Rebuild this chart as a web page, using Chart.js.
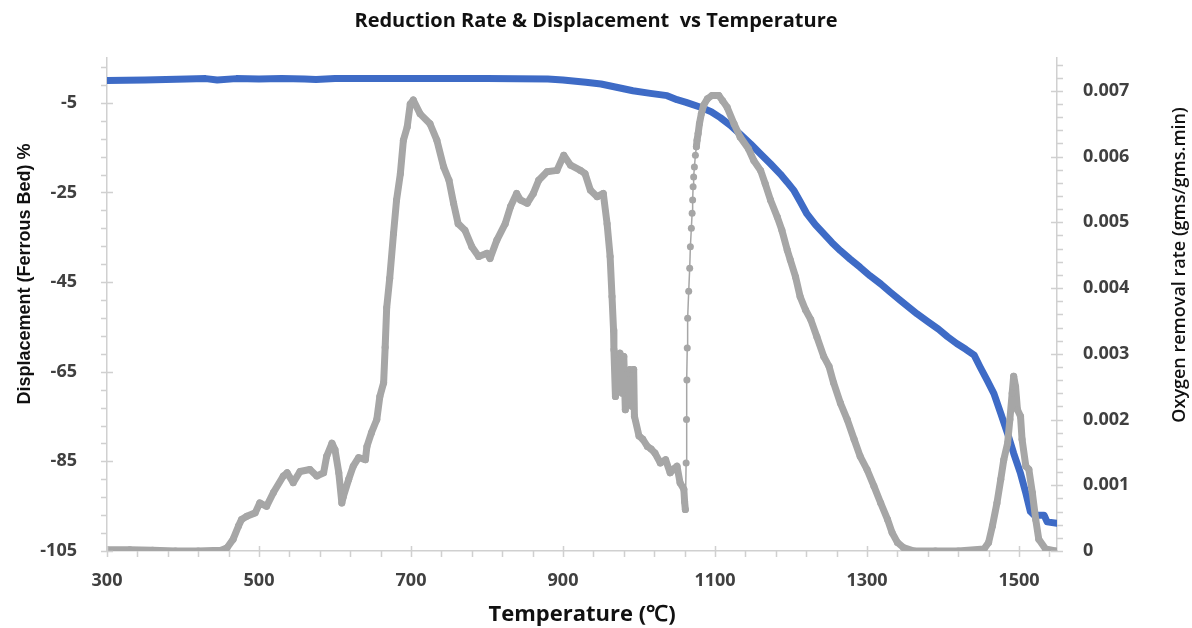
<!DOCTYPE html>
<html>
<head>
<meta charset="utf-8">
<title>Reduction Rate & Displacement vs Temperature</title>
<script src="https://cdn.jsdelivr.net/npm/chart.js@4.4.1/dist/chart.umd.min.js"></script>
<style>
    html, body { margin: 0; padding: 0; background: #ffffff; }
    #wrap { position: relative; width: 1192px; height: 628px; }
</style>
</head>
<body>
<div id="wrap"><canvas id="reductionChart"></canvas></div>
<script>
    'use strict';

    // --- Data ---
    // Displacement of the ferrous bed (%), left axis
    const displacementTemps = [
        300, 350, 405, 430, 445, 470, 500, 530, 560, 575,
        600, 650, 700, 800, 880, 900, 930, 950, 975, 992,
        1015, 1037, 1050, 1062, 1081, 1095, 1107, 1120, 1133, 1147,
        1160, 1173, 1186, 1195, 1204, 1212, 1221, 1232, 1243, 1254,
        1265, 1278, 1291, 1304, 1318, 1331, 1344, 1355, 1366, 1380,
        1394, 1406, 1418, 1430, 1441, 1449, 1458, 1467, 1476, 1485,
        1493, 1502, 1509, 1515, 1520, 1533, 1537, 1550
    ];
    const displacementValues = [
        0, 0.1, 0.3, 0.4, 0.1, 0.4, 0.3, 0.4, 0.3, 0.2,
        0.4, 0.4, 0.4, 0.4, 0.3, 0.1, -0.4, -0.8, -1.7, -2.3,
        -2.9, -3.4, -4.3, -4.9, -6.0, -7.0, -8.3, -10.0, -12.0, -14.2,
        -16.4, -18.6, -20.9, -22.7, -24.6, -27.0, -29.8, -32.2, -34.2, -36.2,
        -38.0, -39.9, -41.7, -43.6, -45.4, -47.3, -49.1, -50.6, -52.1, -53.8,
        -55.5, -57.2, -58.7, -60.0, -61.3, -64.0, -66.9, -69.9, -74.3, -78.8,
        -83.2, -87.7, -92.1, -96.2, -97.0, -97.0, -98.5, -98.8
    ];

    // Oxygen removal rate (gms/gms.min), right axis
    const removalTemps = [
        300, 330, 360, 390, 420, 450, 458, 466, 473, 477,
        484, 495, 501, 510, 519, 532, 537, 545, 554, 567,
        576, 585, 589, 596, 600, 605, 609, 611, 618, 624,
        631, 640, 642, 648, 655, 659, 664, 666, 668, 672,
        677, 681, 686, 690, 695, 699, 703, 712, 725, 734,
        743, 750, 756, 762, 771, 780, 789, 800, 804, 813,
        824, 831, 839, 844, 853, 861, 868, 879, 892, 901,
        910, 923, 929, 936, 945, 953, 958, 962, 964.5, 966.5,
        967, 969, 972, 975, 978, 980, 982, 985, 988, 991,
        993, 994, 1000, 1005, 1011, 1016, 1021, 1028, 1035, 1041,
        1046, 1050, 1054, 1059, 1060, 1061, 1062, 1062.5, 1063, 1063.5,
        1064, 1065.4, 1066.7, 1067.6, 1068.9, 1069.9, 1070.6, 1071.2, 1071.9, 1072.9,
        1074.2, 1075.5, 1076.4, 1077.8, 1079.5, 1082, 1085, 1090, 1096, 1105,
        1110, 1116, 1125, 1133, 1144, 1151, 1160, 1166, 1173, 1182,
        1188, 1195, 1199, 1206, 1212, 1219, 1226, 1234, 1243, 1250,
        1256, 1265, 1274, 1283, 1291, 1300, 1309, 1318, 1327, 1333,
        1340, 1348, 1362, 1390, 1420, 1454, 1460, 1465, 1471, 1476,
        1480, 1485, 1488, 1491, 1493, 1495.5, 1498, 1502, 1504, 1509,
        1513, 1517.5, 1522, 1526, 1535, 1548
    ];
    const removalRates = [
        0.00002, 0.00002, 0.00001, 0, 0, 0.00001, 0.00005, 0.00018, 0.00038, 0.00048,
        0.00053, 0.00058, 0.00073, 0.00068, 0.00089, 0.00114, 0.00119, 0.00104, 0.00121, 0.00124,
        0.00114, 0.00119, 0.00144, 0.00164, 0.00154, 0.00119, 0.00073, 0.00083, 0.00109, 0.00129,
        0.00142, 0.00139, 0.00159, 0.00180, 0.00200, 0.00235, 0.00256, 0.00310, 0.00370, 0.00415,
        0.00483, 0.00534, 0.00574, 0.00625, 0.00645, 0.00680, 0.00686, 0.00665, 0.00650, 0.00625,
        0.00584, 0.00564, 0.00529, 0.00498, 0.00488, 0.00463, 0.00448, 0.00453, 0.00445, 0.00473,
        0.00498, 0.00524, 0.00544, 0.00534, 0.00529, 0.00544, 0.00564, 0.00577, 0.00579, 0.00602,
        0.00587, 0.00579, 0.00574, 0.00549, 0.00539, 0.00544, 0.00498, 0.00448, 0.00387, 0.00336,
        0.00306, 0.00235, 0.00290, 0.00301, 0.00240, 0.00296, 0.00215, 0.00270, 0.00276, 0.00220,
        0.00276, 0.00205, 0.00175, 0.00170, 0.00159, 0.00155, 0.00149, 0.00134, 0.00139, 0.00119,
        0.00125, 0.00129, 0.00104, 0.00094, 0.00075, 0.00063, 0.00134, 0.00200, 0.00260, 0.00309,
        0.00354, 0.00395, 0.00430, 0.00463, 0.00491, 0.00514, 0.00534, 0.00554, 0.00569, 0.00584,
        0.00602, 0.00615, 0.00625, 0.00635, 0.00650, 0.00665, 0.00678, 0.00688, 0.00693, 0.00693,
        0.00685, 0.00675, 0.00650, 0.00630, 0.00612, 0.00594, 0.00579, 0.00559, 0.00534, 0.00508,
        0.00488, 0.00458, 0.00443, 0.00417, 0.00387, 0.00367, 0.00352, 0.00326, 0.00296, 0.00281,
        0.00256, 0.00225, 0.00200, 0.00170, 0.00144, 0.00124, 0.00099, 0.00073, 0.00048, 0.00028,
        0.00013, 0.00005, 0, 0, 0, 0.00003, 0.00013, 0.00038, 0.00073, 0.00109,
        0.00139, 0.00164, 0.00200, 0.00240, 0.00266, 0.00250, 0.00215, 0.00205, 0.00170, 0.00129,
        0.00124, 0.00089, 0.00048, 0.00018, 0.00003, 0
    ];

    // Axis tick labels
    const tempTicks = [300, 500, 700, 900, 1100, 1300, 1500];
    const displacementTicks = [-105, -85, -65, -45, -25, -5];
    const rateTicks = [0, 0.001, 0.002, 0.003, 0.004, 0.005, 0.006, 0.007];

    const AXIS_COLOR = '#d0d0d0';
    const TICK_TEXT = '#404040';
    const BLUE = '#3e6bc6';
    const GREY = '#a6a6a6';

    const toPoints = (xs, ys) => xs.map((x, i) => ({ x: x, y: ys[i] }));

    // Tick marks: majors cross the axis line, minors sit on the outside only
    const axisMarks = {
        id: 'axisMarks',
        afterDraw: (chart) => {
            const { ctx, scales } = chart;
            const x = scales.x, yL = scales.y, yR = scales.y1;
            ctx.save();
            ctx.strokeStyle = AXIS_COLOR;
            ctx.lineWidth = 1.5;
            ctx.beginPath();

            // temperature axis: major every 200, minor every 40
            for (let t = 300; t <= 1550; t += 40) {
                const px = Math.round(x.getPixelForValue(t)) + 0.5;
                const major = (t - 300) % 200 === 0;
                ctx.moveTo(px, x.top - (major ? 5 : 0));
                ctx.lineTo(px, x.top + 6);
            }
            // displacement axis: major every 20, minor every 4
            for (let v = -105; v <= 5; v += 4) {
                const py = Math.round(yL.getPixelForValue(v)) + 0.5;
                const major = (v + 105) % 20 === 0;
                ctx.moveTo(yL.right - 6, py);
                ctx.lineTo(yL.right + (major ? 6 : 0), py);
            }
            // rate axis: major every 0.001, minor every 0.0002
            for (let i = 0; i <= 37; i++) {
                const py = Math.round(yR.getPixelForValue(i * 0.0002)) + 0.5;
                const major = i % 5 === 0;
                ctx.moveTo(yR.left - (major ? 6 : 0), py);
                ctx.lineTo(yR.left + 6, py);
            }
            ctx.stroke();

            // axis titles on both sides read bottom-to-top
            ctx.fillStyle = '#111111';
            ctx.textAlign = 'center';
            ctx.textBaseline = 'middle';

            ctx.save();
            ctx.translate(25, 274);
            ctx.rotate(-Math.PI / 2);
            ctx.font = 'bold 18px "Liberation Sans", Arial, sans-serif';
            ctx.fillText('Displacement (Ferrous Bed) %', 0, 0);
            ctx.restore();

            ctx.save();
            ctx.translate(1180, 265);
            ctx.rotate(-Math.PI / 2);
            ctx.font = '600 18px "Open Sans", sans-serif';
            ctx.fillText('Oxygen removal rate (gms/gms.min)', 0, 0);
            ctx.restore();

            ctx.restore();
        }
    };

    Chart.defaults.font.family = '"Open Sans", sans-serif';

    const tickFont = { size: 18, weight: 'bold' };

    new Chart(document.getElementById('reductionChart').getContext('2d'), {
        type: 'scatter',
        data: {
            datasets: [
                {
                    label: 'Oxygen removal rate',
                    data: toPoints(removalTemps, removalRates),
                    yAxisID: 'y1',
                    showLine: true,
                    order: 0,
                    borderColor: GREY,
                    backgroundColor: GREY,
                    borderWidth: 7,
                    borderJoinStyle: 'round',
                    borderCapStyle: 'round',
                    pointRadius: 3.5,
                    pointBorderWidth: 0,
                    pointBackgroundColor: GREY,
                    tension: 0,
                    // the sharp rise after 1060 is sparse: thin line between dots
                    segment: {
                        borderWidth: (c) => (c.p0.parsed.x >= 1061 && c.p1.parsed.x <= 1075.5) ? 1.5 : 7
                    }
                },
                {
                    label: 'Displacement',
                    data: toPoints(displacementTemps, displacementValues),
                    yAxisID: 'y',
                    showLine: true,
                    order: 1,
                    borderColor: BLUE,
                    backgroundColor: BLUE,
                    borderWidth: 7,
                    borderJoinStyle: 'round',
                    borderCapStyle: 'round',
                    pointRadius: 0,
                    tension: 0
                }
            ]
        },
        options: {
            responsive: true,
            maintainAspectRatio: false,
            animation: false,
            layout: { padding: 0 },
            plugins: {
                legend: { display: false },
                tooltip: { enabled: false },
                title: {
                    display: true,
                    text: 'Reduction Rate & Displacement  vs Temperature',
                    color: '#111111',
                    font: { size: 20, weight: 'bold' },
                    padding: { top: 9, bottom: 25 }
                }
            },
            scales: {
                x: {
                    type: 'linear',
                    min: 300,
                    max: 1550,
                    afterBuildTicks: (scale) => { scale.ticks = tempTicks.map(v => ({ value: v })); },
                    afterFit: (scale) => { scale.height = 77; },
                    grid: { display: false },
                    border: { display: true, color: AXIS_COLOR, width: 1.5 },
                    ticks: {
                        color: TICK_TEXT,
                        font: tickFont,
                        padding: 11,
                        maxRotation: 0,
                        callback: (v) => String(v)
                    },
                    title: {
                        display: true,
                        text: 'Temperature (℃)',
                        color: '#111111',
                        font: { size: 22, weight: 'bold' },
                        padding: { top: 0, bottom: 0 }
                    }
                },
                y: {
                    type: 'linear',
                    position: 'left',
                    min: -105,
                    max: 5,
                    afterBuildTicks: (scale) => { scale.ticks = displacementTicks.map(v => ({ value: v })); },
                    afterFit: (scale) => { scale.width = 107; },
                    grid: { display: false },
                    border: { display: true, color: AXIS_COLOR, width: 1.5 },
                    ticks: { color: TICK_TEXT, font: tickFont, padding: 22, callback: (v) => String(v) }
                },
                y1: {
                    type: 'linear',
                    position: 'right',
                    min: 0,
                    max: 0.0075,
                    afterBuildTicks: (scale) => { scale.ticks = rateTicks.map(v => ({ value: v })); },
                    afterFit: (scale) => { scale.width = 135; },
                    grid: { display: false },
                    border: { display: true, color: AXIS_COLOR, width: 1.5 },
                    ticks: {
                        color: TICK_TEXT,
                        font: tickFont,
                        padding: 18,
                        callback: (v) => v === 0 ? '0' : v.toFixed(3)
                    }
                }
            }
        },
        plugins: [axisMarks]
    });
</script>
</body>
</html>
